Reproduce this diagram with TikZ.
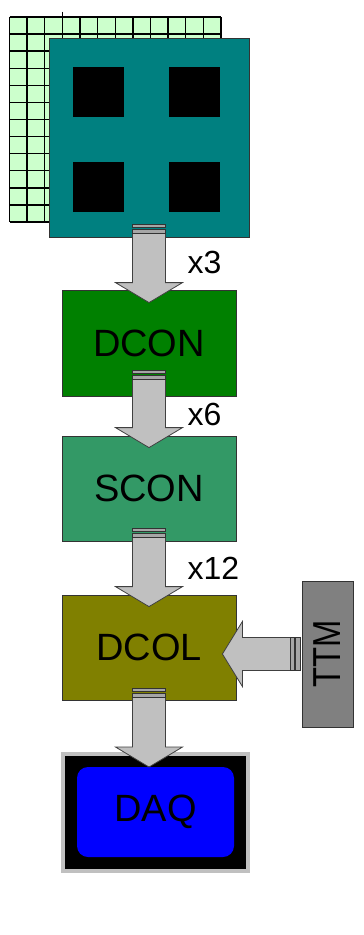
\documentclass[tikz,border=0pt]{standalone}
\usepackage{fontspec}
\setmainfont{Liberation Sans}
\usepackage{tikz}
\usetikzlibrary{positioning, calc}
\definecolor{modTeal}  {HTML}{008080}
\definecolor{padGreen} {HTML}{CCFFCC}
\definecolor{dconFill} {HTML}{008000}
\definecolor{sconFill} {HTML}{339966}
\definecolor{dcolFill} {HTML}{808000}
\definecolor{ttmFill}  {HTML}{808080}
\definecolor{daqBlue}  {HTML}{0000FF}
\definecolor{pipeGray} {HTML}{C0C0C0}
\definecolor{barGray}  {HTML}{A6A6A6}

\tikzset{
  stagebox/.style={draw=black!80, line width=0.8pt, minimum width=174pt,
    minimum height=105pt, font=\fontsize{38}{42}\selectfont, text=black},
  chip/.style={fill=black, minimum width=51pt, minimum height=50pt},
  bigarrow/.style={fill=pipeGray, draw=black!75, line width=0.8pt, line join=miter},
  portbar/.style={fill=barGray, draw=black!80, line width=0.7pt},
  mult/.style={font=\fontsize{32}{36}\selectfont, anchor=base west},
}

% block arrow going down: source, bar offset, target, tip depth
\newcommand\pipedown[4]{%
  \coordinate (p) at ($(#1.south)+(0,-#2)$);
  \coordinate (tip) at ($(#1.south |- #3.north)+(0,#4)$);
  \draw[bigarrow] ($(p)+(-16.5,0)$) -- ($(tip)+(-16.5,-20)$)
    -- ($(tip)+(-33.5,-20)$) -- (tip) -- ($(tip)+(33.5,-20)$)
    -- ($(tip)+(16.5,-20)$) -- ($(p)+(16.5,0)$) -- cycle;
  \draw[portbar] ($(p)+(-16.5,0)$) rectangle ($(p)+(16.5,-4.5)$);
  \draw[portbar] ($(p)+(-16.5,-6)$) rectangle ($(p)+(16.5,-9.5)$);
}

\begin{document}
\begin{tikzpicture}[x=1pt, y=-1pt]
  \useasboundingbox (0,0) rectangle (364,935);

  % sensor pixel grid
  \fill[padGreen] (9.5,17) rectangle (221,222);
  \foreach \i in {0,...,12} {
    \draw[line width=1.4pt] (9.5+17.625*\i,17) -- (9.5+17.625*\i,222);
    \draw[line width=1.4pt] (9.5,17+17.08*\i) -- (221,17+17.08*\i);
  }
  \draw[line width=1.4pt] (62.4,11.5) -- (62.4,17);

  % module with readout chips
  \node[draw=black!80, line width=0.8pt, fill=modTeal, minimum width=200pt,
        minimum height=199pt] (module) at (149,137.5) {};
  \node[chip] (chipA) at (98.5,92) {};
  \node[chip] (chipB) at (194.5,92) {};
  \node[chip] (chipC) at (98.5,187) {};
  \node[chip] (chipD) at (194.5,187) {};

  % readout chain
  \node[stagebox, fill=dconFill, minimum height=106pt] (dcon) at (149,343) {DCON};
  \node[stagebox, fill=sconFill] (scon) at (149,488.5) {SCON};
  \node[stagebox, fill=dcolFill] (dcol) at (149,647.5) {DCOL};
  \node[draw=black!80, line width=0.8pt, fill=ttmFill, minimum width=51pt,
        minimum height=146pt] (ttm) at (327.5,654) {};
  \node[rotate=90, font=\fontsize{39}{42}\selectfont] (ttmtext) at (ttm.center)
        {\scalebox{0.84}[1]{TTM}};

  % DAQ
  \node[draw=pipeGray, line width=4pt, fill=black, minimum width=185pt,
        minimum height=117pt] (daqframe) at (155.5,812.5) {};
  \node[fill=daqBlue, rounded corners=11pt, minimum width=157pt, minimum height=90pt,
        font=\fontsize{38}{42}\selectfont] (daq) at (155.5,812) {DAQ};

  % links
  \pipedown{module}{4}{dcon}{13}
  \pipedown{dcon}{17}{scon}{12}
  \pipedown{scon}{4}{dcol}{12}
  \pipedown{dcol}{3}{daqframe}{15}

  % trigger link from TTM
  \coordinate (tp) at ($(ttm.west)+(-11,0)$);
  \coordinate (ttip) at ($(dcol.east |- ttm.west)+(-14,0)$);
  \draw[bigarrow] ($(tp)+(0,-16.5)$) -- ($(ttip)+(20,-16.5)$)
    -- ($(ttip)+(20,-32.5)$) -- (ttip) -- ($(ttip)+(20,32.5)$)
    -- ($(ttip)+(20,16.5)$) -- ($(tp)+(0,16.5)$) -- cycle;
  \draw[portbar] ($(tp)+(0,-16.5)$) rectangle ($(tp)+(3.5,16.5)$);
  \draw[portbar] ($(tp)+(5,-16.5)$) rectangle ($(tp)+(10,16.5)$);

  % multiplicities
  \node[mult] (m3) at (184,273) {x3};
  \node[mult] (m6) at (184,425) {x6};
  \node[mult] (m12) at (184,579) {x12};
\end{tikzpicture}
\end{document}
